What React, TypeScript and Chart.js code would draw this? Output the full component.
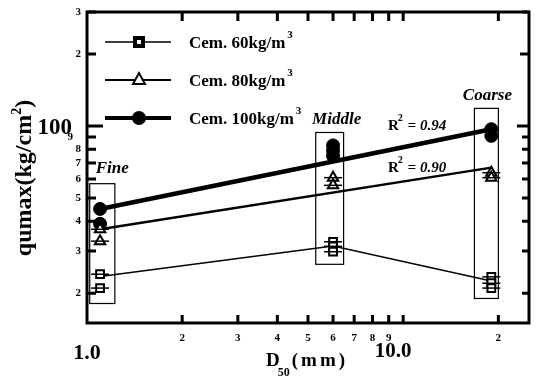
import React, { useEffect, useRef } from "react";
import { Chart, registerables } from "chart.js";
Chart.register(...registerables);

// ---- data ----
const cem60X = [1.1, 1.1, 6, 6, 6, 19, 19, 19];
const cem60Y = [24, 21, 32.8, 31.4, 29.8, 23.4, 22, 21];
const cem80X = [1.1, 1.1, 6, 6, 19, 19];
const cem80Y = [37, 33, 60.8, 56.5, 63.8, 60.8];
const cem100X = [1.1, 1.1, 6, 6, 6, 19, 19];
const cem100Y = [45, 39, 83, 79, 75, 97, 91];

const line60X = [1.1, 6, 19];
const line60Y = [23.5, 31.5, 22.5];
const fit80X = [1.1, 19];
const fit80Y = [37, 67];
const fit100X = [1.1, 19];
const fit100Y = [45, 97];

const groupNames = ["Fine", "Middle", "Coarse"];
const boxXMin = [1.02, 5.29, 16.8];
const boxXMax = [1.225, 6.48, 20.0];
const boxYMin = [18.1, 26.4, 19];
const boxYMax = [57.4, 94, 118.6];

const seriesNames = ["Cem. 60kg/m", "Cem. 80kg/m", "Cem. 100kg/m"];
const r2Labels = ["0.94", "0.90"];

const xTickValues = [2, 3, 4, 5, 6, 7, 8, 9, 10, 20];
const xTickLabels = ["2", "3", "4", "5", "6", "7", "8", "9", "10.0", "2"];
const yTickValues = [20, 30, 40, 50, 60, 70, 80, 90, 100, 200, 300];
const yTickLabels = ["2", "3", "4", "5", "6", "7", "8", "9", "100", "2", "3"];

const SERIF = '"Liberation Serif", "DejaVu Serif", serif';

const pts = (xs: number[], ys: number[]) => xs.map((x, i) => ({ x, y: ys[i] }));

const decor = {
  id: "decor",
  beforeDatasetsDraw(chart: any) {
    const { ctx } = chart;
    const xs = chart.scales.x, ys = chart.scales.y;
    ctx.save();
    ctx.strokeStyle = "#000";
    ctx.lineWidth = 1.2;
    groupNames.forEach((_, i) => {
      const l = xs.getPixelForValue(boxXMin[i]);
      const r = xs.getPixelForValue(boxXMax[i]);
      const t = ys.getPixelForValue(boxYMax[i]);
      const b = ys.getPixelForValue(boxYMin[i]);
      ctx.strokeRect(l, t, r - l, b - t);
    });
    ctx.restore();
  },
  afterDatasetsDraw(chart: any) {
    const { ctx } = chart;
    ctx.save();
    ctx.strokeStyle = "#000";
    ctx.lineWidth = 1.5;
    chart.data.datasets.forEach((ds: any, di: number) => {
      if (!ds.errDash) return;
      const meta = chart.getDatasetMeta(di);
      meta.data.forEach((el: any) => {
        ctx.beginPath();
        ctx.moveTo(el.x - 9, el.y);
        ctx.lineTo(el.x + 9, el.y);
        ctx.stroke();
      });
    });
    ctx.restore();
  },
  afterDraw(chart: any) {
    const { ctx, chartArea: ca } = chart;
    const xs = chart.scales.x, ys = chart.scales.y;
    ctx.save();
    ctx.strokeStyle = "#000";
    ctx.fillStyle = "#000";
    // frame
    ctx.lineWidth = 3;
    ctx.strokeRect(ca.left, ca.top, ca.right - ca.left, ca.bottom - ca.top);
    // y ticks (inward on both sides)
    yTickValues.forEach((v) => {
      const y = ys.getPixelForValue(v);
      const lenL = v === 100 ? 16 : 9;
      const lenR = v === 100 ? 12 : v === 200 ? 9 : 7;
      ctx.beginPath();
      ctx.moveTo(ca.left, y);
      ctx.lineTo(ca.left + lenL, y);
      ctx.moveTo(ca.right, y);
      ctx.lineTo(ca.right - lenR, y);
      ctx.stroke();
    });
    // x ticks
    xTickValues.forEach((v) => {
      const x = xs.getPixelForValue(v);
      ctx.beginPath();
      ctx.moveTo(x, ca.top);
      ctx.lineTo(x, ca.top + 9);
      ctx.moveTo(x, ca.bottom);
      ctx.lineTo(x, ca.bottom - 8);
      ctx.stroke();
    });
    // y tick labels
    ctx.textBaseline = "middle";
    ctx.textAlign = "right";
    yTickValues.forEach((v, i) => {
      const y = ys.getPixelForValue(v);
      if (v === 100) {
        ctx.font = `bold 23px ${SERIF}`;
        ctx.fillText(yTickLabels[i], ca.left - 15, y + 2);
      } else {
        ctx.font = `bold 11px ${SERIF}`;
        const xr = v === 90 ? ca.left - 14 : ca.left - 6;
        ctx.fillText(yTickLabels[i], xr, y);
      }
    });
    // x tick labels
    ctx.textAlign = "center";
    ctx.font = `bold 22px ${SERIF}`;
    ctx.fillText("1.0", xs.getPixelForValue(1), ca.bottom + 30);
    xTickValues.forEach((v, i) => {
      const x = xs.getPixelForValue(v);
      if (v === 10) {
        ctx.font = `bold 21px ${SERIF}`;
        ctx.fillText(xTickLabels[i], x - 10, ca.bottom + 29);
      } else {
        ctx.font = `bold 11px ${SERIF}`;
        ctx.fillText(xTickLabels[i], x, ca.bottom + 15);
      }
    });
    // axis titles
    ctx.textBaseline = "alphabetic";
    ctx.textAlign = "left";
    // x title: D50(mm)
    ctx.font = `bold 19px ${SERIF}`;
    let tx = 266;
    ctx.fillText("D", tx, 366);
    tx += ctx.measureText("D").width;
    ctx.font = `bold 12px ${SERIF}`;
    ctx.fillText("50", tx - 2, 376);
    tx += ctx.measureText("50").width;
    ctx.font = `bold 19px ${SERIF}`;
    (ctx as any).letterSpacing = "3px";
    ctx.fillText("(mm)", tx, 366);
    (ctx as any).letterSpacing = "0px";
    // y title
    ctx.save();
    ctx.translate(31, 178);
    ctx.rotate(-Math.PI / 2);
    ctx.font = `bold 24px ${SERIF}`;
    const main = "qumax(kg/cm";
    const wMain = ctx.measureText(main).width;
    ctx.font = `bold 14px ${SERIF}`;
    const wSup = ctx.measureText("2").width;
    ctx.font = `bold 24px ${SERIF}`;
    const wEnd = ctx.measureText(")").width;
    const total = wMain + wSup + wEnd;
    let px = -total / 2;
    ctx.fillText(main, px, 0);
    px += wMain;
    ctx.font = `bold 14px ${SERIF}`;
    ctx.fillText("2", px, -10);
    px += wSup;
    ctx.font = `bold 24px ${SERIF}`;
    ctx.fillText(")", px, 0);
    ctx.restore();

    // group labels
    ctx.font = `italic bold 17px ${SERIF}`;
    groupNames.forEach((name, i) => {
      const l = xs.getPixelForValue(boxXMin[i]);
      const r = xs.getPixelForValue(boxXMax[i]);
      const t = ys.getPixelForValue(boxYMax[i]);
      if (i === 0) {
        ctx.textAlign = "left";
        ctx.fillText(name, l + 6, t - 11);
      } else {
        ctx.textAlign = "center";
        ctx.fillText(name, (l + r) / 2 + (i === 1 ? 7 : 1), t - 8);
      }
    });
    // R^2 labels
    ctx.textAlign = "left";
    const r2Base = [130, 172];
    r2Labels.forEach((lab, i) => {
      let x = 388;
      const b = r2Base[i];
      ctx.font = `bold 15px ${SERIF}`;
      ctx.fillText("R", x, b);
      x += ctx.measureText("R").width;
      ctx.font = `bold 10px ${SERIF}`;
      ctx.fillText("2", x - 1, b - 9);
      x += 5;
      ctx.font = `italic bold 15px ${SERIF}`;
      ctx.fillText(" = " + lab, x, b);
    });

    // legend
    const rows = [42, 80, 118];
    const lw = [1.5, 2, 4];
    const styles = ["rect", "triangle", "circle"];
    rows.forEach((yy, i) => {
      ctx.lineWidth = lw[i];
      ctx.beginPath();
      ctx.moveTo(105, yy);
      ctx.lineTo(171, yy);
      ctx.stroke();
      ctx.lineWidth = 2;
      if (styles[i] === "rect") {
        ctx.fillStyle = "#000";
        ctx.fillRect(133, yy - 6, 12, 12);
        ctx.fillStyle = "#fff";
        ctx.fillRect(137, yy - 2, 4, 4);
        ctx.fillStyle = "#000";
      } else if (styles[i] === "triangle") {
        ctx.fillStyle = "#fff";
        ctx.beginPath();
        ctx.moveTo(139, yy - 7);
        ctx.lineTo(145, yy + 4);
        ctx.lineTo(133, yy + 4);
        ctx.closePath();
        ctx.fill();
        ctx.stroke();
        ctx.fillStyle = "#000";
      } else {
        ctx.beginPath();
        ctx.arc(139, yy, 7, 0, Math.PI * 2);
        ctx.fill();
      }
      ctx.font = `bold 17px ${SERIF}`;
      ctx.fillText(seriesNames[i], 189, yy + 6);
      const w = ctx.measureText(seriesNames[i]).width;
      ctx.font = `bold 11px ${SERIF}`;
      ctx.fillText("3", 189 + w + 2, yy - 4);
    });
    ctx.restore();
  },
};

export default function App() {
  const ref = useRef<HTMLCanvasElement | null>(null);
  useEffect(() => {
    document.body.style.margin = "0";
    const canvas = ref.current!;
    const chart = new Chart(canvas, {
      type: "scatter",
      data: {
        datasets: [
          {
            label: seriesNames[0],
            data: pts(cem60X, cem60Y),
            pointStyle: "rect",
            pointRadius: 5.5,
            borderWidth: 2,
            borderColor: "#000",
            backgroundColor: "#fff",
            order: 0,
            errDash: true,
          } as any,
          {
            label: seriesNames[1],
            data: pts(cem80X, cem80Y),
            pointStyle: "triangle",
            pointRadius: 6,
            borderWidth: 2,
            borderColor: "#000",
            backgroundColor: "#fff",
            order: 0,
            errDash: true,
          } as any,
          {
            label: seriesNames[2],
            data: pts(cem100X, cem100Y),
            pointStyle: "circle",
            pointRadius: 6.5,
            borderWidth: 1,
            borderColor: "#000",
            backgroundColor: "#000",
            order: 0,
          } as any,
          {
            label: "line60",
            data: pts(line60X, line60Y),
            showLine: true,
            pointRadius: 0,
            borderWidth: 1.5,
            borderColor: "#000",
            order: 1,
          },
          {
            label: "fit80",
            data: pts(fit80X, fit80Y),
            showLine: true,
            pointRadius: 0,
            borderWidth: 2.5,
            borderColor: "#000",
            order: 1,
          },
          {
            label: "fit100",
            data: pts(fit100X, fit100Y),
            showLine: true,
            pointRadius: 0,
            borderWidth: 4.5,
            borderColor: "#000",
            order: 1,
          },
        ],
      },
      options: {
        animation: false,
        responsive: false,
        layout: { padding: { left: 0, right: 5, top: 12, bottom: 0 } },
        plugins: { legend: { display: false }, tooltip: { enabled: false } },
        scales: {
          x: {
            type: "logarithmic",
            min: 1,
            max: 25,
            grid: { display: false },
            border: { display: false },
            ticks: { display: false },
            afterFit: (s: any) => {
              s.height = 60;
            },
          },
          y: {
            type: "logarithmic",
            min: 15,
            max: 300,
            grid: { display: false },
            border: { display: false },
            ticks: { display: false },
            afterFit: (s: any) => {
              s.width = 87;
            },
          },
        },
      },
      plugins: [decor],
    });
    return () => chart.destroy();
  }, []);
  return (
    <div style={{ width: 537, height: 383, background: "#fff" }}>
      <canvas ref={ref} width={537} height={383} />
    </div>
  );
}
